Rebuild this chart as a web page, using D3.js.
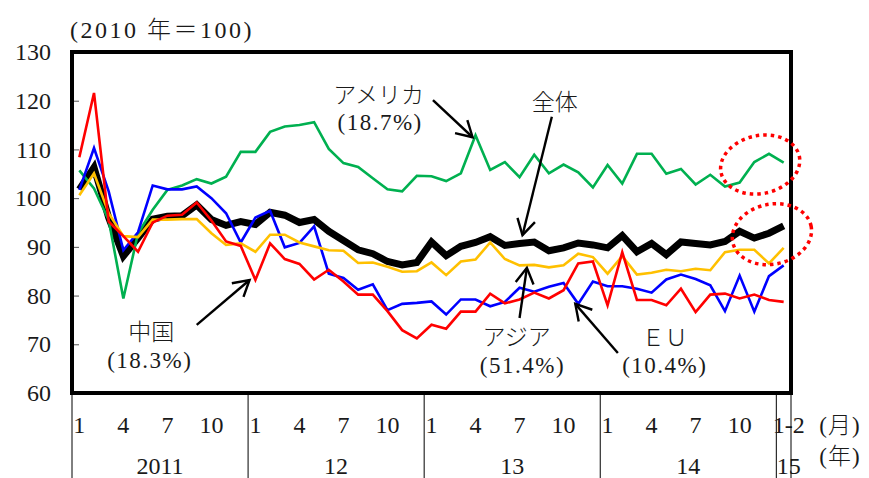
<!DOCTYPE html>
<html lang="ja">
<head>
<meta charset="utf-8">
<title>輸出数量指数</title>
<script src="https://cdn.jsdelivr.net/npm/d3@7"></script>
<style>
  body { margin: 0; background: #fff; }
  svg text {
    font-family: "Liberation Serif", "Noto Sans CJK JP", serif;
    font-weight: 300;
    fill: #1a1a1a;
  }
</style>
</head>
<body>
<svg id="chart" width="869" height="478"></svg>
<script>
// 年ごとの月（2015年は1-2月をまとめて1点）
const years = ["2011", "12", "13", "14", "15"];
const yearMonths = [
  ["1","2","3","4","5","6","7","8","9","10","11","12"],
  ["1","2","3","4","5","6","7","8","9","10","11","12"],
  ["1","2","3","4","5","6","7","8","9","10","11","12"],
  ["1","2","3","4","5","6","7","8","9","10","11","12"],
  ["1‐2"]
];
const monthTicks = ["1", "4", "7", "10", "1‐2"];
const yTicks = [60, 70, 80, 90, 100, 110, 120, 130];

// 2010年＝100
const total = [101.8, 106.3, 96.0, 88.1, 91.8, 95.7, 96.3, 96.4, 98.6, 95.6, 94.4, 95.2,
  94.6, 97.1, 96.5, 95.0, 95.6, 93.2, 91.3, 89.4, 88.6, 87.0, 86.3, 86.8,
  91.0, 88.2, 90.1, 90.9, 92.1, 90.3, 90.7, 91.0, 89.2, 89.8, 90.8, 90.4,
  89.8, 92.3, 89.0, 90.7, 88.4, 91.0, 90.7, 90.4, 91.1, 93.2, 91.8, 92.8, 94.3];
const usa = [105.7, 102.0, 95.5, 79.4, 92.8, 97.6, 101.7, 102.6, 103.9, 103.0, 104.4, 109.5,
  109.5, 113.6, 114.7, 115.0, 115.6, 110.1, 107.2, 106.4, 104.1, 101.8, 101.4, 104.6,
  104.5, 103.5, 105.1, 112.9, 105.8, 107.4, 104.3, 108.9, 105.1, 106.9, 105.3, 102.2,
  106.8, 103.0, 109.1, 109.1, 105.0, 106.0, 102.8, 104.8, 102.4, 103.2, 107.4, 109.1, 107.3];
const china = [108.4, 121.6, 95.2, 92.2, 89.0, 95.0, 96.4, 96.6, 99.1, 95.4, 91.1, 90.2,
  83.2, 90.7, 87.5, 86.5, 83.3, 85.3, 82.9, 80.2, 80.2, 76.8, 72.9, 71.2,
  74.0, 73.2, 76.7, 76.7, 80.4, 78.4, 79.2, 80.6, 79.4, 81.1, 86.6, 87.0,
  78.0, 88.9, 79.1, 79.1, 78.0, 81.4, 76.6, 80.2, 80.4, 79.4, 80.2, 79.1, 78.7];
const asia = [100.6, 105.1, 96.9, 92.2, 92.0, 95.6, 95.6, 95.7, 95.7, 92.8, 90.4, 90.7,
  89.0, 92.5, 92.5, 90.9, 90.1, 89.3, 89.2, 86.7, 86.8, 85.9, 84.9, 85.0,
  86.8, 84.2, 87.0, 87.4, 90.9, 87.5, 86.2, 86.3, 85.8, 86.2, 88.6, 87.9,
  84.5, 88.1, 84.3, 84.7, 85.3, 85.0, 85.5, 85.2, 88.9, 89.4, 89.4, 86.6, 89.8];
const eu = [101.7, 110.3, 101.4, 89.3, 93.0, 102.6, 101.8, 101.8, 102.4, 100.0, 96.9, 90.9,
  96.0, 97.4, 89.9, 90.8, 94.2, 84.5, 83.6, 81.2, 82.3, 77.0, 78.3, 78.5,
  78.8, 76.1, 79.2, 79.2, 77.8, 78.7, 81.6, 80.8, 81.8, 82.6, 78.3, 82.9,
  81.9, 81.9, 81.4, 80.6, 83.3, 84.3, 83.4, 82.1, 76.8, 84.1, 76.7, 84.0, 86.2];

const periods = [];
years.forEach((yr, k) => yearMonths[k].forEach(m => periods.push(yr + "/" + m)));

const svg = d3.select("#chart");
const plotLeft = 72, plotRight = 791, plotTop = 52, plotBottom = 393;

const x = d3.scaleBand().domain(periods).range([plotLeft, plotRight]);
const y = d3.scaleLinear().domain([60, 130]).range([plotBottom, plotTop]);
const cx = i => x(periods[0]) + (i + 0.5) * x.step();   // 月の中央（小数可）

// 縦軸
const yAxis = svg.append("g")
  .attr("transform", `translate(${plotLeft},0)`)
  .call(d3.axisLeft(y).tickValues(yTicks).tickSize(-7).tickPadding(21).tickFormat(d3.format("d")));
yAxis.select(".domain").remove();
yAxis.selectAll(".tick line").attr("stroke", "#555");
yAxis.selectAll("text").attr("font-size", 24).attr("font-family", null).attr("fill", "#1a1a1a");

svg.append("text")
  .attr("x", plotLeft - 2).attr("y", 38)
  .attr("font-size", 24).attr("letter-spacing", 2.5)
  .text("(2010 年＝100)");

// 系列
const line = d3.line().x((d, i) => cx(i)).y(d => y(d));
const series = [
  { data: total, color: "#000000", width: 7 },
  { data: usa,   color: "#00B050", width: 2.6 },
  { data: eu,    color: "#0000FF", width: 2.6 },
  { data: asia,  color: "#FFC000", width: 2.6 },
  { data: china, color: "#FF0000", width: 2.6 }
];
svg.append("g").selectAll("path").data(series).join("path")
  .attr("d", s => line(s.data))
  .attr("fill", "none")
  .attr("stroke", s => s.color)
  .attr("stroke-width", s => s.width);

// 枠
svg.append("rect")
  .attr("x", plotLeft).attr("y", plotTop)
  .attr("width", plotRight - plotLeft).attr("height", plotBottom - plotTop)
  .attr("fill", "none").attr("stroke", "#000").attr("stroke-width", 4);

// 横軸（月・年の表）
const axisG = svg.append("g");
let start = 0;
years.forEach((yr, k) => {
  const n = yearMonths[k].length;
  axisG.append("line")
    .attr("x1", x(periods[start])).attr("x2", x(periods[start]))
    .attr("y1", plotBottom).attr("y2", 478).attr("stroke", "#000").attr("stroke-width", 1);
  const shift = n === 1 ? 5 : 0;
  yearMonths[k].forEach((m, j) => {
    if (!monthTicks.includes(m)) return;
    axisG.append("text")
      .attr("x", cx(start + j) + shift).attr("y", 433)
      .attr("text-anchor", "middle").attr("font-size", 24)
      .text(m);
  });
  axisG.append("text")
    .attr("x", cx(start + (n - 1) / 2) + shift).attr("y", 474)
    .attr("text-anchor", "middle").attr("font-size", 24)
    .text(yr);
  start += n;
});
axisG.append("line")
  .attr("x1", plotRight).attr("x2", plotRight)
  .attr("y1", plotBottom).attr("y2", 478).attr("stroke", "#000").attr("stroke-width", 1);
axisG.append("text").attr("x", 840).attr("y", 433).attr("text-anchor", "middle")
  .attr("font-size", 23).attr("letter-spacing", 1).text("(月)");
axisG.append("text").attr("x", 840).attr("y", 464).attr("text-anchor", "middle")
  .attr("font-size", 23).attr("letter-spacing", 1).text("(年)");

// 注記（位置は 月インデックス, 指数値）
const labels = [
  { t: "アメリカ", i: 20.4, v: 121.2 },
  { t: "(18.7%)", i: 20.5, v: 115.6 },
  { t: "全体",     i: 32.4, v: 119.7 },
  { t: "中国",     i: 4.9,  v: 72.5 },
  { t: "(18.3%)", i: 4.8,  v: 66.8 },
  { t: "アジア",   i: 29.8, v: 71.5 },
  { t: "(51.4%)", i: 30.2, v: 65.7 },
  { t: "ＥＵ",     i: 39.9, v: 71.3 },
  { t: "(10.4%)", i: 39.9, v: 65.7 }
];
svg.append("g").selectAll("text").data(labels).join("text")
  .attr("x", d => cx(d.i)).attr("y", d => y(d.v))
  .attr("dy", "0.35em")
  .attr("text-anchor", "middle").attr("font-size", 23)
  .attr("letter-spacing", d => d.t.startsWith("(") ? 1.5 : 0)
  .text(d => d.t);

const arrows = [
  { i1: 24.1, v1: 120.1, i2: 26.8, v2: 112.5 },
  { i1: 32.2, v1: 116.7, i2: 30.2, v2: 92.4 },
  { i1: 8.0,  v1: 74.0,  i2: 11.6, v2: 83.2 },
  { i1: 30.0, v1: 75.4,  i2: 30.5, v2: 85.7 },
  { i1: 36.7, v1: 68.2,  i2: 33.8, v2: 78.3 }
];
const arrowG = svg.append("g").attr("stroke", "#000").attr("stroke-width", 2.4).attr("fill", "none");
arrows.forEach(a => {
  const x1 = cx(a.i1), y1 = y(a.v1), x2 = cx(a.i2), y2 = y(a.v2);
  const ang = Math.atan2(y1 - y2, x1 - x2), len = 18, spread = Math.PI / 6;
  arrowG.append("line").attr("x1", x1).attr("y1", y1).attr("x2", x2).attr("y2", y2);
  arrowG.append("path").attr("d",
    `M${x2 + len * Math.cos(ang - spread)},${y2 + len * Math.sin(ang - spread)}` +
    `L${x2},${y2}` +
    `L${x2 + len * Math.cos(ang + spread)},${y2 + len * Math.sin(ang + spread)}`);
});

// 直近の動きを示す点線の楕円
const rings = [
  { i: 46.4, v: 106.9, rx: 40, ry: 29 },
  { i: 47.2, v: 92.6,  rx: 40, ry: 30 }
];
svg.append("g").selectAll("ellipse").data(rings).join("ellipse")
  .attr("transform", d => `translate(${cx(d.i)},${y(d.v)}) rotate(-12)`)
  .attr("rx", d => d.rx).attr("ry", d => d.ry)
  .attr("fill", "none").attr("stroke", "#FF0000")
  .attr("stroke-width", 3.5).attr("stroke-dasharray", "3.5,4");
</script>
</body>
</html>
